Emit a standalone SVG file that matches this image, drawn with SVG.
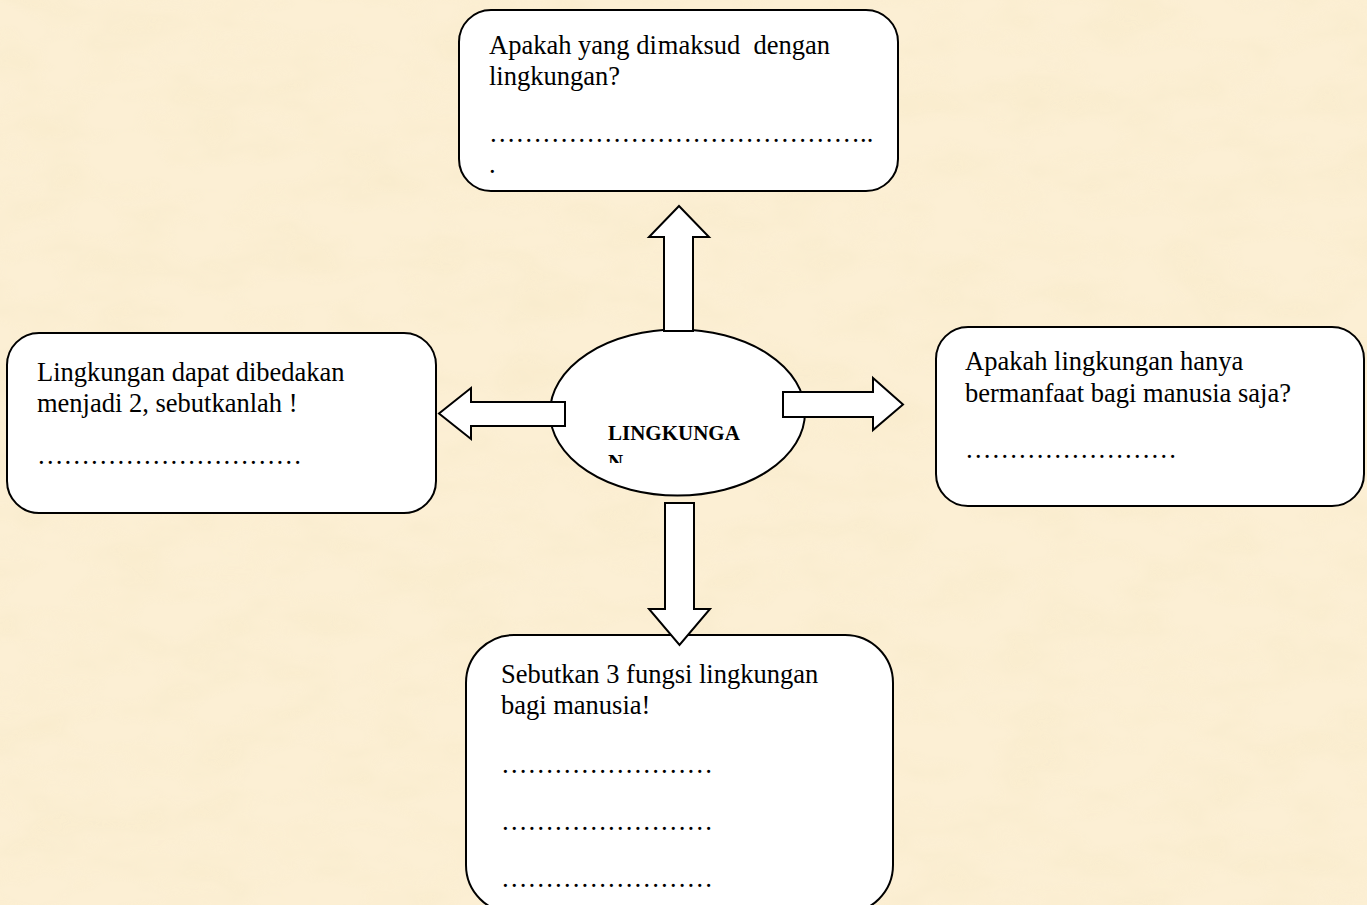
<svg xmlns="http://www.w3.org/2000/svg" width="1367" height="905" viewBox="0 0 1367 905">
  <defs>
    <filter id="parch" x="0" y="0" width="100%" height="100%">
      <feTurbulence type="fractalNoise" baseFrequency="0.012 0.025" numOctaves="3" seed="7"/>
      <feColorMatrix type="matrix" values="0 0 0 0 0.93  0 0 0 0 0.82  0 0 0 0 0.58  0 0 0 1.5 -0.55"/>
    </filter>
    <clipPath id="ellClip">
      <rect x="550" y="330" width="260" height="133"/>
    </clipPath>
    <style>
      .box { fill: #ffffff; stroke: #000000; stroke-width: 2; }
      .arrow { fill: #ffffff; stroke: #000000; stroke-width: 2; stroke-linejoin: miter; }
      .t { font-family: "Liberation Serif", "Times New Roman", serif; font-size: 26.5px; fill: #000000; white-space: pre; }
      .c { font-family: "Liberation Serif", "Times New Roman", serif; font-size: 21px; font-weight: bold; fill: #000000; }
    </style>
  </defs>

  <rect x="0" y="0" width="1367" height="905" fill="#FCEFD4"/>
  <rect x="0" y="0" width="1367" height="905" filter="url(#parch)" opacity="0.65"/>

  <g id="node-top">
    <rect class="box" x="459" y="10" width="439" height="181" rx="32" ry="32"/>
    <text class="t" x="489" y="54">Apakah yang di<tspan dx="1">maksud  dengan</tspan></text>
    <text class="t" x="489" y="85">lingkungan?</text>
    <text class="t" x="489" y="142">&#8230;&#8230;&#8230;&#8230;&#8230;&#8230;&#8230;&#8230;&#8230;&#8230;&#8230;&#8230;&#8230;&#8230;..</text>
    <text class="t" x="489" y="173">.</text>
  </g>

  <g id="node-left">
    <rect class="box" x="7" y="333" width="429" height="180" rx="32" ry="32"/>
    <text class="t" x="37" y="381">Lingkungan dapat dibedakan</text>
    <text class="t" x="37" y="412">menjadi 2, sebutkanlah !</text>
    <text class="t" x="37" y="464">&#8230;&#8230;&#8230;&#8230;&#8230;&#8230;&#8230;&#8230;&#8230;&#8230;</text>
  </g>

  <g id="node-right">
    <rect class="box" x="936" y="327" width="428" height="179" rx="32" ry="32"/>
    <text class="t" x="965" y="370">Apakah lingkungan hanya</text>
    <text class="t" x="965" y="402">bermanfaat bagi manusia saja?</text>
    <text class="t" x="965" y="458">&#8230;&#8230;&#8230;&#8230;&#8230;&#8230;&#8230;&#8230;</text>
  </g>

  <g id="node-bottom">
    <rect class="box" x="466" y="635" width="427" height="278" rx="48" ry="48"/>
    <text class="t" x="501" y="683">Sebutkan 3 fungsi lingkungan</text>
    <text class="t" x="501" y="714">bagi manusia!</text>
    <text class="t" x="501" y="773">&#8230;&#8230;&#8230;&#8230;&#8230;&#8230;&#8230;&#8230;</text>
    <text class="t" x="501" y="830">&#8230;&#8230;&#8230;&#8230;&#8230;&#8230;&#8230;&#8230;</text>
    <text class="t" x="501" y="887">&#8230;&#8230;&#8230;&#8230;&#8230;&#8230;&#8230;&#8230;</text>
  </g>

  <g id="node-center">
    <ellipse class="box" cx="677.5" cy="412.5" rx="127.5" ry="83"/>
    <text class="c" x="608" y="440">LINGKUNGA</text>
    <text class="c" x="608" y="469" clip-path="url(#ellClip)">N</text>
  </g>

  <g id="connectors">
    <polygon class="arrow" points="664,331 664,237 649,237 679,206 709,237 693,237 693,331"/>
    <polygon class="arrow" points="565,402 471,402 471,388 439,413.5 471,439 471,426 565,426"/>
    <polygon class="arrow" points="783,392 873,392 873,378 903,404.5 873,430 873,417 783,417"/>
    <polygon class="arrow" points="665,503 694,503 694,609 710,609 679.5,645 649,609 665,609"/>
  </g>
</svg>
